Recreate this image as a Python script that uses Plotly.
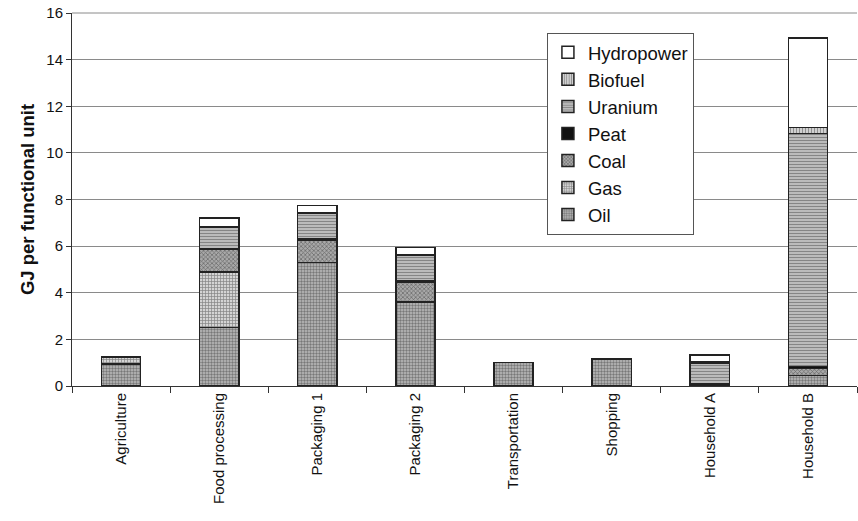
import plotly.graph_objects as go

categories = ["Agriculture", "Food processing", "Packaging 1", "Packaging 2",
              "Transportation", "Shopping", "Household A", "Household B"]

oil        = [0.95, 2.50, 5.30, 3.60, 1.00, 1.15, 0.05, 0.45]
gas        = [0.30, 2.40, 0.00, 0.00, 0.00, 0.00, 0.00, 0.00]
coal       = [0.00, 0.95, 0.95, 0.85, 0.00, 0.00, 0.00, 0.30]
peat       = [0.00, 0.05, 0.05, 0.05, 0.00, 0.00, 0.04, 0.08]
uranium    = [0.00, 0.90, 1.10, 1.10, 0.00, 0.00, 0.90, 10.00]
biofuel    = [0.00, 0.05, 0.05, 0.05, 0.00, 0.00, 0.05, 0.25]
hydropower = [0.00, 0.35, 0.30, 0.30, 0.00, 0.00, 0.30, 3.85]

y_ticks = [0, 2, 4, 6, 8, 10, 12, 14, 16]

series = [
    ("Oil", oil, dict(shape=".", fgcolor="#333333", bgcolor="#bdbdbd", size=3, solidity=0.5)),
    ("Gas", gas, dict(shape="+", fgcolor="#333333", bgcolor="#d4d4d4", size=3, solidity=0.4)),
    ("Coal", coal, dict(shape="x", fgcolor="#222222", bgcolor="#a8a8a8", size=3, solidity=0.4)),
    ("Peat", peat, dict(shape="", fgcolor="#111111", bgcolor="#111111")),
    ("Uranium", uranium, dict(shape="-", fgcolor="#444444", bgcolor="#c6c6c6", size=3, solidity=0.45)),
    ("Biofuel", biofuel, dict(shape="|", fgcolor="#444444", bgcolor="#dddddd", size=3, solidity=0.45)),
    ("Hydropower", hydropower, dict(shape="", fgcolor="#ffffff", bgcolor="#ffffff")),
]

fig = go.Figure()
for name, vals, pat in series:
    color = "#111111" if name == "Peat" else "#ffffff"
    fig.add_trace(go.Bar(
        name=name, x=categories, y=vals, width=0.40,
        marker=dict(color=color, pattern=pat,
                    line=dict(color="#222222", width=1.5)),
    ))

# top frame line of the plot area (decoration)
fig.add_shape(type="line", xref="paper", yref="paper", x0=0, x1=1, y0=1, y1=1,
              line=dict(color="#8a8a8a", width=1))

fig.update_layout(
    barmode="stack",
    width=858, height=521,
    margin=dict(l=72, r=1, t=13, b=135),
    plot_bgcolor="white", paper_bgcolor="white",
    font=dict(family="Liberation Sans, Arial, sans-serif", color="#111111"),
    showlegend=True,
    legend=dict(
        x=0.605, y=0.947, xanchor="left", yanchor="top",
        traceorder="reversed",
        bgcolor="white", bordercolor="#555555", borderwidth=1,
        font=dict(size=18.5, color="#111111"),
        itemwidth=30, tracegroupgap=0,
    ),
    xaxis=dict(
        automargin=False,
        tickangle=-90, tickfont=dict(size=15),
        showline=True, linecolor="#333333", linewidth=1,
        ticks="outside", ticklen=6, tickcolor="#333333",
        tickson="boundaries", showgrid=False,
    ),
    yaxis=dict(
        automargin=False,
        range=[0, 16], tickvals=y_ticks,
        tickfont=dict(size=15), ticklabeloverflow="allow",
        showline=True, linecolor="#333333", linewidth=1,
        ticks="outside", ticklen=5, tickcolor="#333333",
        showgrid=True, gridcolor="#8a8a8a", gridwidth=1,
        zeroline=False,
        title=dict(text="<b>GJ per functional unit</b>", font=dict(size=18.5), standoff=6),
    ),
)

fig.write_html(
    "out.html",
    config={"displayModeBar": False},
    post_script="document.body.style.margin='0';document.body.style.overflow='hidden';",
)
